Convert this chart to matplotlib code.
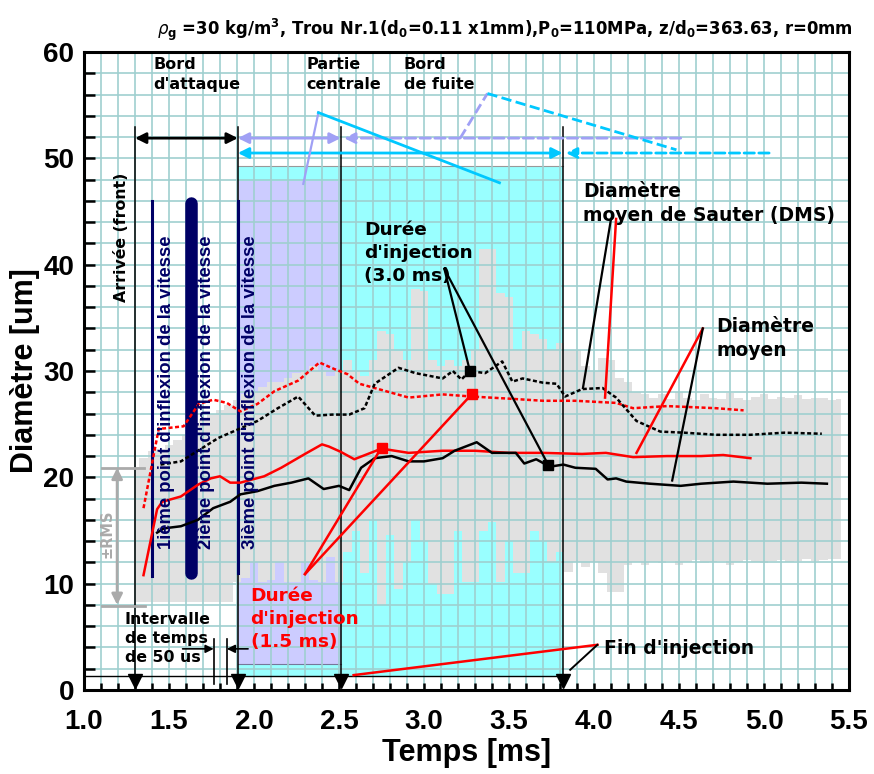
import matplotlib
matplotlib.use("Agg")
import matplotlib.pyplot as plt
from matplotlib.ticker import MultipleLocator

# ---- data ----
# Sauter mean diameter (DMS), black dotted
dms_black_t = [1.45, 1.57, 1.67, 1.79, 1.905, 2.02, 2.14, 2.26, 2.36, 2.46, 2.56, 2.65, 2.71, 2.85, 2.95,
               3.11, 3.17, 3.22, 3.27, 3.36, 3.46, 3.52, 3.58, 3.70, 3.78, 3.83, 3.93, 4.05, 4.13, 4.25,
               4.39, 4.53, 4.72, 4.92, 5.12, 5.34]
dms_black_v = [21.2, 21.5, 22.5, 23.7, 24.5, 25.3, 26.5, 27.6, 25.8, 25.9, 25.9, 26.5, 28.8, 30.3, 29.8,
               29.3, 30.0, 29.2, 30.0, 29.8, 30.9, 29.0, 29.3, 28.9, 28.8, 27.6, 28.3, 28.4, 27.5, 25.3,
               24.3, 24.2, 24.0, 24.0, 24.2, 24.1]
# Sauter mean diameter, red dotted
dms_red_t = [1.35, 1.44, 1.47, 1.586, 1.675, 1.76, 1.84, 1.92, 2.02, 2.12, 2.26, 2.385, 2.47, 2.55, 2.62,
             2.71, 2.91, 3.11, 3.28, 3.50, 3.70, 3.89, 4.13, 4.23, 4.43, 4.72, 4.88]
dms_red_v = [17.1, 24.6, 24.6, 24.8, 26.9, 27.3, 27.0, 26.2, 26.9, 28.1, 29.1, 30.8, 30.2, 29.7, 28.8,
             28.4, 27.5, 27.8, 27.6, 27.4, 27.2, 27.2, 27.0, 26.5, 26.7, 26.5, 26.3]
# mean diameter, red solid
dm_red_t = [1.35, 1.43, 1.46, 1.57, 1.67, 1.745, 1.80, 1.86, 1.92, 2.06, 2.16, 2.30, 2.40, 2.44, 2.51,
            2.59, 2.75, 2.91, 3.11, 3.30, 3.50, 3.70, 3.93, 4.07, 4.23, 4.43, 4.63, 4.76, 4.92]
dm_red_v = [10.8, 17.0, 17.7, 18.2, 19.3, 19.9, 20.1, 19.5, 19.5, 20.1, 20.9, 22.2, 23.1, 22.9, 22.4,
            21.7, 22.7, 22.3, 22.5, 22.5, 22.3, 22.3, 22.2, 22.3, 21.9, 22.0, 22.0, 22.1, 21.8]
# mean diameter, black solid
dm_black_t = [1.43, 1.47, 1.57, 1.67, 1.76, 1.86, 1.92, 2.02, 2.12, 2.22, 2.32, 2.41, 2.50, 2.56, 2.63,
              2.71, 2.81, 2.91, 3.0, 3.11, 3.18, 3.31, 3.40, 3.54, 3.59, 3.66, 3.74, 3.82, 3.89, 4.01,
              4.08, 4.13, 4.19, 4.33, 4.51, 4.63, 4.82, 5.02, 5.22, 5.37]
dm_black_v = [14.8, 15.2, 15.4, 16.0, 17.1, 17.7, 18.4, 18.7, 19.2, 19.5, 19.9, 18.9, 19.2, 18.8, 20.9,
              21.8, 22.0, 21.5, 21.5, 21.8, 22.5, 23.3, 22.3, 22.3, 21.3, 21.7, 21.0, 21.2, 20.9, 20.8,
              19.8, 19.9, 19.6, 19.4, 19.2, 19.4, 19.6, 19.4, 19.5, 19.4]

# +/- RMS band (grey)
band_t = [1.30, 1.35, 1.40, 1.45, 1.50, 1.55, 1.60, 1.65, 1.70, 1.75, 1.80, 1.85, 1.90, 1.95, 2.00,
          2.05, 2.10, 2.15, 2.20, 2.25, 2.30, 2.35, 2.40, 2.45, 2.50, 2.55, 2.60, 2.65, 2.70, 2.75,
          2.80, 2.85, 2.90, 2.95, 3.00, 3.05, 3.10, 3.15, 3.20, 3.25, 3.30, 3.35, 3.40, 3.45, 3.50,
          3.55, 3.60, 3.65, 3.70, 3.75, 3.80, 3.85, 3.90, 3.95, 4.00, 4.05, 4.10, 4.15, 4.20, 4.25,
          4.30, 4.35, 4.40, 4.45, 4.50, 4.55, 4.60, 4.65, 4.70, 4.75, 4.80, 4.85, 4.90, 4.95, 5.00,
          5.05, 5.10, 5.15, 5.20, 5.25, 5.30, 5.35, 5.40, 5.45]
band_hi = [21.0, 21.8, 22.5, 22.7, 23.0, 23.5, 24.0, 25.0, 25.5, 26.0, 26.3, 26.8, 27.3, 27.8, 28.0,
           28.5, 29.0, 29.0, 29.3, 29.8, 30.0, 30.5, 30.0, 29.5, 30.0, 31.0, 30.0, 29.5, 31.0, 33.8,
           33.5, 31.9, 31.0, 37.7, 37.5, 31.0, 30.5, 31.0, 30.5, 31.0, 32.0, 41.5, 41.5, 37.3, 37.0,
           32.0, 33.8, 33.5, 33.0, 32.0, 32.6, 32.0, 32.0, 30.5, 30.0, 31.2, 31.0, 29.3, 29.0, 28.0,
           27.8, 27.5, 27.8, 27.4, 28.0, 27.5, 27.3, 27.8, 27.5, 27.4, 27.9, 27.5, 27.3, 27.6, 27.8,
           27.4, 27.6, 27.5, 27.7, 27.4, 27.5, 27.5, 27.3, 27.4]
band_lo = [8.3, 8.3, 8.3, 8.3, 8.3, 8.3, 8.3, 8.3, 8.3, 8.3, 8.3, 8.3, 10.2, 10.5, 12.0,
           10.2, 10.3, 12.0, 10.2, 10.2, 12.0, 10.3, 10.2, 12.5, 10.2, 13.0, 15.0, 11.0, 16.0, 8.0,
           14.6, 9.5, 12.0, 16.0, 14.0, 10.0, 9.0, 9.0, 15.0, 10.2, 10.2, 15.0, 15.8, 10.2, 14.0,
           11.0, 11.0, 15.0, 14.0, 12.0, 13.0, 11.1, 12.0, 11.6, 12.0, 11.0, 9.2, 9.2, 11.8, 12.0,
           11.8, 12.0, 11.9, 12.1, 11.8, 12.0, 12.2, 11.9, 12.0, 12.1, 11.8, 12.0, 12.2, 12.0, 11.9,
           12.1, 12.2, 12.0, 12.1, 12.3, 12.1, 12.2, 12.3, 12.3]

# event times [ms]
t_arrival = 1.30
t_infl = [1.40, 1.63, 1.905]
t_central = 2.51
t_end = 3.82

NAVY = '#000066'
CYAN = '#00c8ff'
LAV = '#a0a0f5'
GRID = '#9fcfcf'
FT = 'Liberation Sans'

fig = plt.figure(figsize=(8.74, 7.74), dpi=100)
ax = fig.add_axes([84 / 874, 1 - 690 / 774, 765 / 874, 638 / 774])
ax.set_xlim(1.0, 5.5)
ax.set_ylim(0, 60)

# coloured regions
ax.fill_between([t_infl[2], t_end], 1.3, 49.3, color='#99ffff', lw=0, zorder=0.1)
ax.plot([t_infl[2], t_end], [49.3, 49.3], color='#999999', lw=0.8, zorder=0.15)
ax.fill_between([t_infl[2], t_central], 2.45, 47.9, color='#ccccff', lw=0, zorder=0.2)
ax.plot([t_infl[2], t_central], [2.45, 2.45], color='#777799', lw=0.8, zorder=0.25)
ax.fill_between(band_t, band_lo, band_hi, step='mid', color='#e1e1e1', lw=0, zorder=0.3)

# grid and axes
ax.set_axisbelow(True)
ax.xaxis.set_major_locator(MultipleLocator(0.5))
ax.xaxis.set_minor_locator(MultipleLocator(0.1))
ax.yaxis.set_major_locator(MultipleLocator(10))
ax.yaxis.set_minor_locator(MultipleLocator(2))
ax.grid(True, which='both', color=GRID, lw=1.2)
ax.tick_params(which='both', direction='in', top=False, right=False, width=1.8, color='black')
ax.tick_params(axis='y', which='both', length=8, pad=7)
ax.tick_params(axis='x', which='both', length=5, pad=14)
for lab in ax.get_xticklabels() + ax.get_yticklabels():
    lab.set_fontfamily(FT)
    lab.set_fontweight('bold')
    lab.set_fontsize(20)
ax.set_xticklabels(['%.1f' % v for v in ax.get_xticks()])
for s in ax.spines.values():
    s.set_linewidth(2.2)
ax.set_xlabel('Temps [ms]', fontfamily=FT, fontweight='bold', fontsize=22, labelpad=2)
ax.set_ylabel('Diamètre [um]', fontfamily=FT, fontweight='bold', fontsize=22, labelpad=2)

# bottom line of the injection zone
ax.plot([1.0, t_end], [1.3, 1.3], color='black', lw=1.0, zorder=3)

# vertical event lines with arrows at the bottom
for t in [t_arrival, t_infl[2], t_central, t_end]:
    ax.plot([t, t], [52.9, 0.8], color='black', lw=1.1, zorder=4)
    ax.plot(t, 0.8, marker='v', color='black', ms=10, zorder=4, clip_on=False)

# inflexion lines
ax.plot([t_infl[0]] * 2, [46.0, 10.7], color=NAVY, lw=2.2, zorder=4)
ax.plot([t_infl[1]] * 2, [45.8, 11.0], color=NAVY, lw=9, solid_capstyle='round', zorder=4)
ax.plot([t_infl[2]] * 2, [46.0, 11.0], color=NAVY, lw=2.2, zorder=4)

# diameter curves
dots = (0, (1.6, 1.0))
ax.plot(dms_red_t, dms_red_v, color='red', lw=1.8, ls=dots, zorder=5)
ax.plot(dms_black_t, dms_black_v, color='black', lw=1.8, ls=dots, zorder=5)
ax.plot(dm_red_t, dm_red_v, color='red', lw=1.8, zorder=5)
ax.plot(dm_black_t, dm_black_v, color='black', lw=1.8, zorder=5)

# phase arrows at the top
def harrow(x0, x1, y, col, style='<|-|>', ls='-'):
    ax.annotate('', xy=(x1, y), xytext=(x0, y),
                arrowprops=dict(arrowstyle=style, color=col, lw=2, ls=ls,
                                mutation_scale=16, shrinkA=0, shrinkB=0), zorder=6)

harrow(t_arrival, t_infl[2], 51.9, 'black')
harrow(t_infl[2], t_central, 51.9, LAV)
harrow(4.51, 2.53, 51.9, LAV, style='-|>', ls='--')
harrow(t_infl[2], 3.815, 50.5, CYAN)
harrow(5.03, 3.835, 50.5, CYAN, style='-|>', ls='--')

# callout lines of the phase labels
ax.plot([2.29, 2.379], [47.6, 54.3], color=LAV, lw=1.6, zorder=6)
ax.plot([2.379, 3.444], [54.3, 47.7], color=CYAN, lw=2, zorder=6)
ax.plot([3.213, 3.373], [51.9, 56.1], color=LAV, lw=2, ls='--', zorder=6)
ax.plot([3.373, 4.485], [56.1, 50.8], color=CYAN, lw=2, ls='--', zorder=6)

# callout lines to the curves
ax.plot([3.12, 3.27], [39.6, 30.0], color='black', lw=1.6, zorder=6)
ax.plot([3.12, 3.73], [39.6, 21.2], color='black', lw=1.6, zorder=6)
ax.plot([2.30, 2.75], [10.9, 22.8], color='red', lw=1.8, zorder=6)
ax.plot([2.30, 3.28], [10.9, 27.8], color='red', lw=1.8, zorder=6)
ax.plot([4.10, 3.935], [44.3, 28.4], color='black', lw=1.6, zorder=6)
ax.plot([4.13, 4.065], [44.3, 27.5], color='red', lw=1.8, zorder=6)
ax.plot([4.64, 4.25], [34.0, 22.3], color='red', lw=1.8, zorder=6)
ax.plot([4.64, 4.46], [34.0, 19.7], color='black', lw=1.6, zorder=6)
ax.plot([2.586, 4.02], [1.4, 4.25], color='red', lw=1.8, zorder=6)
ax.plot([4.02, 3.86], [4.25, 1.9], color='black', lw=1.4, zorder=6)

# square markers
ax.plot([3.27, 3.73], [30.0, 21.2], 's', color='black', ms=7, zorder=7)
ax.plot([2.75, 3.28], [22.8, 27.8], 's', color='red', ms=7, zorder=7)

# +/- RMS bracket
ax.annotate('', xy=(1.195, 8.0), xytext=(1.195, 20.9),
            arrowprops=dict(arrowstyle='<|-|>', color='#aaaaaa', lw=2, mutation_scale=16,
                            shrinkA=0, shrinkB=0), zorder=6)
ax.plot([1.107, 1.35], [20.9, 20.9], color='#aaaaaa', lw=2, zorder=6)
ax.plot([1.107, 1.36], [7.9, 7.9], color='#aaaaaa', lw=2, zorder=6)
ax.text(1.136, 14.7, '±RMS', rotation=90, ha='center', va='center', color='#aaaaaa',
        fontweight='bold', fontsize=10.5, zorder=7)

# 50 us interval
ax.annotate('', xy=(1.763, 3.87), xytext=(1.58, 3.87),
            arrowprops=dict(arrowstyle='-|>', color='black', lw=1.2, mutation_scale=12,
                            shrinkA=0, shrinkB=0), zorder=6)
ax.annotate('', xy=(1.84, 3.87), xytext=(1.965, 3.87),
            arrowprops=dict(arrowstyle='-|>', color='black', lw=1.2, mutation_scale=12,
                            shrinkA=0, shrinkB=0), zorder=6)
for t in [1.763, 1.84]:
    ax.plot([t, t], [4.8, 0.6], color='black', lw=1.2, zorder=6)

# texts
bold = dict(fontweight='bold', zorder=8)
ax.text(1.41, 57.9, 'Bord\nd\'attaque', fontsize=11.5, va='center', linespacing=1.45, **bold)
ax.text(2.31, 57.9, 'Partie\ncentrale', fontsize=11.5, va='center', linespacing=1.45, **bold)
ax.text(2.88, 57.9, 'Bord\nde fuite', fontsize=11.5, va='center', linespacing=1.45, **bold)
ax.text(1.22, 42.6, 'Arrivée (front)', rotation=90, ha='center', va='center', fontsize=11.3, **bold)
names = ['1ième', '2ième', '3ième']
for xt, nm in zip([1.487, 1.722, 1.982], names):
    ax.text(xt, 13.3, nm + ' point d\'inflexion de la vitesse', rotation=90, ha='center',
            va='bottom', color=NAVY, fontfamily=FT, fontsize=13.3, **bold)
ax.text(2.65, 44.1, 'Durée\nd\'injection\n(3.0 ms)', fontsize=13.3, va='top', linespacing=1.35, **bold)
ax.text(1.98, 9.7, 'Durée\nd\'injection\n(1.5 ms)', fontsize=13.3, va='top', color='red',
        linespacing=1.35, **bold)
ax.text(3.935, 47.8, 'Diamètre\nmoyen de Sauter (DMS)', fontsize=13.5, va='top', linespacing=1.35, **bold)
ax.text(4.72, 35.1, 'Diamètre\nmoyen', fontsize=13.5, va='top', linespacing=1.35, **bold)
ax.text(4.06, 3.9, 'Fin d\'injection', fontsize=13.5, va='center', **bold)
ax.text(1.24, 7.3, 'Intervalle\nde temps\nde 50 us', fontsize=11.3, va='top', linespacing=1.3, **bold)

fig.text(0.578, 0.962, r'$\rho_{\mathbf{g}}$ =30 kg/m$^{\mathbf{3}}$, Trou Nr.1(d$_{\mathbf{0}}$=0.11 x1mm),'
         r'P$_{\mathbf{0}}$=110MPa, z/d$_{\mathbf{0}}$=363.63, r=0mm',
         ha='center', va='center', fontsize=11.9, fontweight='bold')

fig.savefig('out.png', dpi=100)
